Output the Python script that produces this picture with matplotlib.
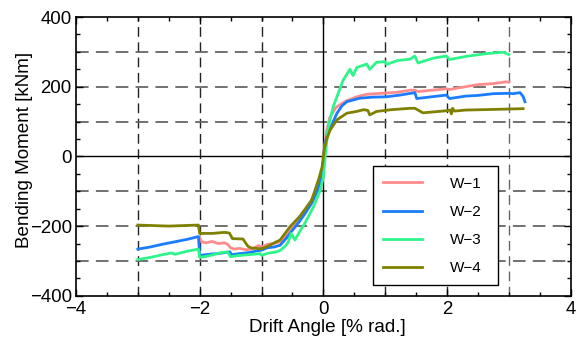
import matplotlib
matplotlib.use("Agg")
import matplotlib.pyplot as plt
from matplotlib.ticker import MultipleLocator

plt.rcParams['font.family'] = ['Liberation Sans', 'DejaVu Sans']

labels = ["W\u22121", "W\u22122", "W\u22123", "W\u22124"]
colors = ["#ff8c8c", "#1a7cff", "#2ef58a", "#808000"]

w1_x = [-2.0, -1.97, -1.9, -1.8, -1.7, -1.6, -1.55, -1.5, -1.45, -1.35, -1.25, -1.15, -1.05, -1.0,
        -0.9, -0.8, -0.7, -0.6, -0.5, -0.4, -0.3, -0.2, -0.1, -0.05, -0.02, 0.0, 0.02, 0.05, 0.1,
        0.2, 0.3, 0.38, 0.54, 0.7, 0.85, 1.02, 1.2, 1.4, 1.48, 1.53, 1.75, 1.99, 2.04, 2.3, 2.5,
        2.75, 2.96, 3.0]
w1_y = [-232, -245, -248, -244, -250, -248, -252, -262, -266, -264, -268, -265, -256, -260,
        -252, -250, -245, -228, -205, -180, -155, -128, -90, -65, -40, -10, 30, 70, 110,
        140, 152, 160, 171, 178, 180, 182, 184, 190, 190, 186, 190, 194, 192, 200, 206,
        209, 214, 213]

w2_x = [-3.0, -2.8, -2.6, -2.4, -2.2, -2.02, -2.0, -1.9, -1.8, -1.7, -1.6, -1.51, -1.49, -1.4,
        -1.3, -1.2, -1.1, -1.0, -0.9, -0.8, -0.7, -0.6, -0.5, -0.4, -0.3, -0.19, -0.1, -0.05,
        -0.02, 0.0, 0.02, 0.05, 0.11, 0.22, 0.3, 0.38, 0.59, 0.8, 1.02, 1.24, 1.48, 1.51, 1.7,
        1.99, 2.04, 2.3, 2.5, 2.75, 3.0, 3.07, 3.18, 3.23, 3.26]
w2_y = [-266, -260, -252, -245, -238, -230, -284, -282, -280, -279, -276, -274, -282, -280,
        -278, -276, -272, -269, -262, -260, -255, -235, -212, -190, -165, -135, -100, -75,
        -50, -15, 30, 55, 80, 124, 145, 157, 167, 170, 171, 176, 183, 166, 170,
        176, 166, 173, 175, 180, 181, 180, 183, 172, 157]

w3_x = [-3.0, -2.8, -2.6, -2.45, -2.4, -2.2, -2.02, -2.0, -1.9, -1.8, -1.65, -1.55, -1.5, -1.4,
        -1.2, -1.02, -1.0, -0.9, -0.76, -0.7, -0.62, -0.57, -0.52, -0.46, -0.38, -0.3, -0.16,
        -0.05, 0.0, 0.03, 0.08, 0.16, 0.27, 0.32, 0.43, 0.48, 0.54, 0.7, 0.75, 0.86, 1.0, 1.02,
        1.2, 1.4, 1.48, 1.53, 1.78, 1.99, 2.04, 2.31, 2.64, 2.91, 3.0]
w3_y = [-296, -290, -282, -277, -281, -272, -266, -290, -287, -283, -276, -274, -288, -285,
        -282, -279, -284, -278, -274, -270, -258, -247, -221, -240, -215, -192, -145,
        -97, -60, 0, 85, 143, 195, 219, 250, 232, 255, 265, 250, 270, 272, 264,
        275, 279, 288, 268, 282, 288, 278, 287, 295, 299, 292]

w4_x = [-3.0, -2.5, -2.02, -2.0, -1.8, -1.6, -1.52, -1.47, -1.3, -1.22, -1.16, -1.0, -0.9,
        -0.76, -0.7, -0.54, -0.38, -0.19, -0.08, -0.02, 0.0, 0.02, 0.05, 0.11, 0.22, 0.38,
        0.54, 0.65, 0.72, 0.75, 0.86, 1.1, 1.4, 1.48, 1.61, 1.99, 2.05, 2.07, 2.09, 2.12,
        2.3, 2.8, 3.23]
w4_y = [-197, -200, -197, -221, -221, -218, -220, -236, -237, -258, -263, -265, -258,
        -245, -240, -202, -172, -126, -68, -30, 0, 25, 47, 76, 105, 124,
        129, 134, 132, 119, 129, 134, 138, 138, 125, 131, 133, 122, 138, 130,
        133, 135, 137]

series = [(w1_x, w1_y), (w2_x, w2_y), (w3_x, w3_y), (w4_x, w4_y)]

fig = plt.figure(figsize=(5.8, 3.4), dpi=100)
ax = fig.add_axes([0.131, 0.130, 0.853, 0.820])

ax.set_xlim(-4, 4)
ax.set_ylim(-400, 400)

grid_x = [-3, -2, -1, 1, 2, 3]
grid_y = [-300, -200, -100, 100, 200, 300]
for gx in grid_x:
    ax.axvline(gx, color="#222222" if gx != 3 else "#666666", lw=1.0,
               dashes=(7, 4), zorder=1)
for gy in grid_y:
    ax.axhline(gy, color="#666666", lw=1.3, dashes=(7, 4), zorder=1)
ax.axvline(0, color="black", lw=1.0, zorder=1)
ax.axhline(0, color="black", lw=1.0, zorder=1)

for (xs, ys), lab, col in zip(series, labels, colors):
    ax.plot(xs, ys, color=col, lw=2.0, label=lab, zorder=3)

ax.xaxis.set_major_locator(MultipleLocator(2))
ax.xaxis.set_minor_locator(MultipleLocator(0.5))
ax.yaxis.set_major_locator(MultipleLocator(200))
ax.yaxis.set_minor_locator(MultipleLocator(50))
ax.tick_params(which="both", direction="in", top=True, right=True, labelsize=13.4,
               width=1.0, colors="black")
ax.tick_params(which="major", length=5)
ax.tick_params(axis="x", which="major", pad=4)
ax.tick_params(axis="y", which="major", pad=3)
ax.tick_params(which="minor", length=3)
for s in ax.spines.values():
    s.set_linewidth(1.2)
    s.set_color("black")

ax.set_xlabel("Drift Angle [% rad.]", fontsize=13.6)
ax.set_ylabel("Bending Moment [kNm]", fontsize=13.6)
ax.xaxis.set_label_coords(0.508, -0.084)
ax.yaxis.set_label_coords(-0.087, 0.524)

leg = ax.legend(loc="upper left", bbox_to_anchor=(0.600, 0.046, 0.254, 0.418), mode="expand",
                fontsize=11, frameon=True, fancybox=False, edgecolor="black",
                framealpha=1, handlelength=2.55, handletextpad=1.83, labelspacing=0.92,
                borderpad=0.68, borderaxespad=0)
leg.get_frame().set_linewidth(1.0)
leg.set_zorder(5)

fig.savefig("out.png", dpi=100)
